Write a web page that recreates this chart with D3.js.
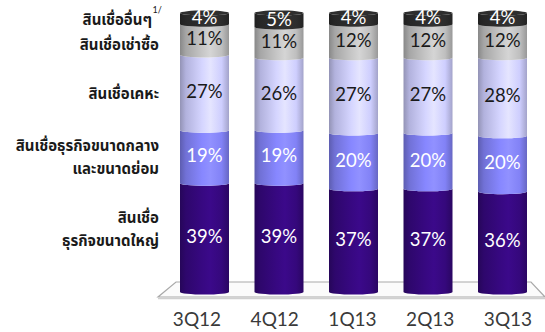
<!DOCTYPE html>
<html>
<head>
<meta charset="utf-8">
<script src="https://cdn.jsdelivr.net/npm/d3@7"></script>
<style>
  html, body { margin: 0; padding: 0; background: #ffffff; }
  svg { display: block; }
</style>
</head>
<body>
<svg id="chart" width="545" height="332"></svg>
<script>
// Loan portfolio composition by quarter (percent of total)
const quarters = ["3Q12", "4Q12", "1Q13", "2Q13", "3Q13"];
const seriesNames = [
  "สินเชื่อธุรกิจขนาดใหญ่",
  "สินเชื่อธุรกิจขนาดกลางและขนาดย่อม",
  "สินเชื่อเคหะ",
  "สินเชื่อเช่าซื้อ",
  "สินเชื่ออื่นๆ"
];
const largeCorporate = [39, 39, 37, 37, 36];
const smeLoans       = [19, 19, 20, 20, 20];
const housingLoans   = [27, 26, 27, 27, 28];
const hirePurchase   = [11, 11, 12, 12, 12];
const otherLoans     = [4, 5, 4, 4, 4];
const seriesValues = [largeCorporate, smeLoans, housingLoans, hirePurchase, otherLoans];

// Left-hand series captions (lines of each caption)
const captionLines = [
  ["สินเชื่อ", "ธุรกิจขนาดใหญ่"],
  ["สินเชื่อธุรกิจขนาดกลาง", "และขนาดย่อม"],
  ["สินเชื่อเคหะ"],
  ["สินเชื่อเช่าซื้อ"],
  ["สินเชื่ออื่นๆ"]
];

const colors = ["#34087a", "#8080f2", "#cacafa", "#bcbcbc", "#2c2c2c"];
const labelColors = ["#ffffff", "#ffffff", "#1a1a1a", "#1a1a1a", "#ffffff"];

const svg = d3.select("#chart");
const defs = svg.append("defs");

const x = d3.scalePoint().domain(quarters).range([204.5, 502.5]);
// axis labels sit on the front edge of the floor, which is spread wider
const xLabel = d3.scalePoint().domain(quarters).range([197, 508]);
const y = d3.scaleLinear().domain([0, 100]).range([292, 13]);
const radius = 24.5;
const ry = 2.6;

// cylinder shading gradients, one per series
colors.forEach((c, i) => {
  const base = d3.color(c);
  const g = defs.append("linearGradient")
    .attr("id", "grad" + i)
    .attr("x1", "0%").attr("x2", "100%").attr("y1", "0%").attr("y2", "0%");
  const stops = [
    [0, base.darker(0.9)],
    [0.12, base.darker(0.35)],
    [0.45, base.brighter(0.15)],
    [0.62, base.brighter(0.35)],
    [0.85, base.brighter(0.05)],
    [1, base.darker(0.6)]
  ];
  stops.forEach(([o, col]) => {
    g.append("stop").attr("offset", o).attr("stop-color", col.formatHex());
  });
});

// floor plane
const floor = svg.append("g");
floor.append("path")
  .attr("d", "M176,282 L531,282 L545,297 L158,297 Z")
  .attr("fill", "#fbfbfb")
  .attr("stroke", "#a9a9a9")
  .attr("stroke-width", 1.2);
floor.append("line")
  .attr("x1", 158).attr("x2", 545).attr("y1", 298.5).attr("y2", 298.5)
  .attr("stroke", "#d0d0d0").attr("stroke-width", 1.5);

// stacked layout
const stacked = quarters.map((q, qi) => {
  let acc = 0;
  return seriesValues.map((vals, si) => {
    const v = vals[qi];
    const seg = { q, si, v, y0: acc, y1: acc + v };
    acc += v;
    return seg;
  });
});

function segPath(cx, yb, yt) {
  return `M${cx - radius},${yt}` +
    ` A${radius},${ry} 0 0 0 ${cx + radius},${yt}` +
    ` L${cx + radius},${yb}` +
    ` A${radius},${ry} 0 0 1 ${cx - radius},${yb} Z`;
}

const bars = svg.append("g").selectAll("g.bar")
  .data(stacked)
  .join("g")
  .attr("class", "bar");

bars.each(function(segs) {
  const g = d3.select(this);
  const cx = x(segs[0].q);
  g.selectAll("path.seg")
    .data(segs)
    .join("path")
    .attr("class", "seg")
    .attr("d", d => segPath(cx, y(d.y0), y(d.y1)))
    .attr("fill", d => `url(#grad${d.si})`);
  // top cap
  const top = segs[segs.length - 1];
  g.append("ellipse")
    .attr("cx", cx).attr("cy", y(top.y1))
    .attr("rx", radius).attr("ry", ry)
    .attr("fill", d3.color(colors[top.si]).brighter(0.15).formatHex());
  // value labels
  g.selectAll("text.val")
    .data(segs)
    .join("text")
    .attr("class", "val")
    .attr("x", cx)
    .attr("y", d => (y(d.y0) + y(d.y1)) / 2 + 1)
    .attr("text-anchor", "middle")
    .attr("dominant-baseline", "middle")
    .attr("font-family", "Lato, 'Open Sans', sans-serif")
    .attr("font-size", 18.5)
    .attr("fill", d => labelColors[d.si])
    .text(d => d.v + "%");
});

// category axis labels
svg.append("g").selectAll("text")
  .data(quarters)
  .join("text")
  .attr("x", d => xLabel(d))
  .attr("y", 326)
  .attr("text-anchor", "middle")
  .attr("font-family", "Lato, 'Open Sans', sans-serif")
  .attr("font-size", 19)
  .attr("fill", "#3a3a3a")
  .text(d => d);

// series captions on the left
const thaiFont = "'Noto Sans Thai', 'Noto Sans Thai Looped', Loma, Garuda, 'Tlwg Typo', Tahoma, sans-serif";
const captionY = [[219, 242], [147, 170], [95], [46], [21]];
const captions = svg.append("g");
captionLines.forEach((lines, si) => {
  lines.forEach((line, li) => {
    captions.append("text")
      .attr("x", si === 4 ? 152 : 159)
      .attr("y", captionY[si][li])
      .attr("text-anchor", "end")
      .attr("dominant-baseline", "middle")
      .attr("font-family", thaiFont)
      .attr("font-weight", "bold")
      .attr("font-size", 15)
      .attr("fill", "#1a1a1a")
      .text(line);
  });
});
// footnote marker
captions.append("text")
  .attr("x", 152.5).attr("y", 13)
  .attr("font-family", "Lato, sans-serif")
  .attr("font-size", 9)
  .attr("fill", "#1a1a1a")
  .text("1/");
</script>
</body>
</html>
